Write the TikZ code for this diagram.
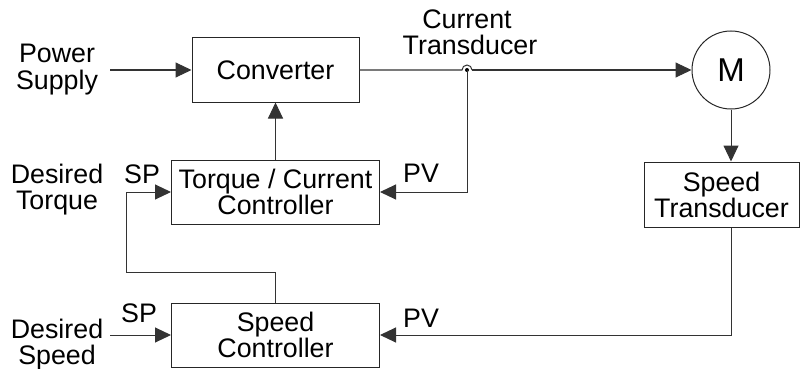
\documentclass[tikz,border=0pt]{standalone}
\usepackage{fontspec}
\setmainfont{Liberation Sans}
\usetikzlibrary{arrows.meta}
\begin{document}
\begin{tikzpicture}[x=1pt,y=-1pt,
  every node/.style={font=\fontsize{26.8}{26}\selectfont, inner sep=0pt},
  blk/.style={draw=black!85, line width=1pt, align=center, minimum height=64pt},
  wire/.style={draw=black!80, line width=1pt},
  arr/.style={wire, -{Triangle[length=16pt,width=15pt]}},
  lbl/.style={anchor=base, align=center}]
\useasboundingbox (0,0) rectangle (800,369);
% blocks
\node[blk, minimum width=167pt] (conv) at (275.5,70) {Converter};
\node[blk, minimum width=208pt] (tc) at (275.5,192) {Torque / Current\\Controller};
\node[blk, minimum width=208pt] (sc) at (275.5,335) {Speed\\Controller};
\node[draw=black!85, line width=1pt, circle, minimum size=78pt, font=\fontsize{33}{33}\selectfont] (mot) at (731,70) {M};
\node[blk, minimum width=155pt, minimum height=65pt] (st) at (721.5,194.5) {Speed\\Transducer};
% labels
\node[lbl] (ps1) at (57,63) {Power};
\node[lbl] (ps2) at (57,89) {Supply};
\node[lbl] (ct1) at (467,29) {Current};
\node[lbl] (ct2) at (470,55) {Transducer};
\node[lbl] (dt1) at (57,183) {Desired};
\node[lbl] (dt2) at (57,209) {Torque};
\node[lbl] (ds1) at (57,338) {Desired};
\node[lbl] (ds2) at (57,364) {Speed};
\node[lbl] (sp1) at (142,183) {SP};
\node[lbl] (sp2) at (139,322) {SP};
\node[lbl] (pv1) at (421,182) {PV};
\node[lbl] (pv2) at (421,327) {PV};
% coordinates
\coordinate (psin) at (110,70);
\coordinate (dsin) at (110,335);
\coordinate (jn) at (467,70);
\coordinate (jl) at (462,70);
\coordinate (fb2) at (126,272);
% connectors
\draw[arr] (psin) -- (conv.west);
\draw[arr] (tc.north) -- (conv.south);
\draw[wire] (conv.east) -- (jl) arc[start angle=180, end angle=0, radius=5pt];
\draw[arr] ([xshift=10pt]jl) -- (mot.west);
\fill[black] (jn) circle[radius=2pt];
\draw[arr] (jn) |- (tc.east);
\draw[arr] (mot.south) -- (mot.south |- st.north);
\draw[arr] (mot.south |- st.south) |- (sc.east);
\draw[arr] (dsin) -- (sc.west);
\draw[arr] (sc.north) -- (sc.north |- fb2) -- (fb2) |- (tc.west);
\end{tikzpicture}
\end{document}
